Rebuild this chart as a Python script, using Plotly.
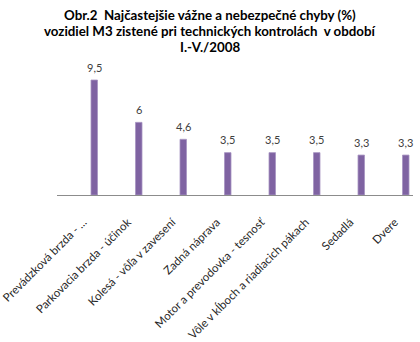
import plotly.graph_objects as go

# Najčastejšie vážne a nebezpečné chyby vozidiel M3, podiel v %
categories = [
    "Prevádzková brzda - ...",
    "Parkovacia brzda - účinok",
    "Kolesá - vôľa v zavesení",
    "Zadná náprava",
    "Motor a prevodovka - tesnosť",
    "Vôle v kĺboch a riadiacich pákach",
    "Sedadlá",
    "Dvere",
]
values = [9.5, 6, 4.6, 3.5, 3.5, 3.5, 3.3, 3.3]
value_labels = [f"{v:g}".replace(".", ",") for v in values]

title_lines = [
    "Obr.2  Najčastejšie vážne a nebezpečné chyby (%)",
    "vozidiel M3 zistené pri technických kontrolách  v období",
    "I.-V./2008",
]

FONT = "Lato"
BAR_FILL = "#7F63A2"
BAR_EDGE = "#A794C2"
BAR_OFFSET = 0.264   # bar sits right of the category centre
BAR_WIDTH = 0.146
BAND_PX = 356 / len(categories)

fig = go.Figure(
    go.Bar(
        x=categories,
        y=values,
        marker=dict(color=BAR_FILL, line=dict(color=BAR_EDGE, width=0.8)),
        offset=BAR_OFFSET,
        width=BAR_WIDTH,
        hoverinfo="x+y",
    )
)

# value labels above each bar
label_dx = (BAR_OFFSET + BAR_WIDTH / 2) * BAND_PX
for cat, val, lab in zip(categories, values, value_labels):
    fig.add_annotation(
        x=cat,
        y=val,
        text=lab,
        xref="x",
        yref="y",
        xanchor="center",
        yanchor="middle",
        xshift=label_dx,
        yshift=13,
        showarrow=False,
        font=dict(family=FONT, size=11, color="#404040"),
    )

# three-line chart title, centred over the chart
for i, line in enumerate(title_lines):
    fig.add_annotation(
        text=line,
        xref="paper",
        yref="paper",
        x=0.43,
        y=1,
        xanchor="center",
        yanchor="middle",
        yshift=50 - 16 * i,
        showarrow=False,
        font=dict(family=FONT, size=13.3, color="#000000", weight="bold"),
    )

fig.update_layout(
    width=420,
    height=342,
    margin=dict(l=57, r=7, t=65, b=147),
    paper_bgcolor="white",
    plot_bgcolor="white",
    showlegend=False,
    xaxis=dict(
        type="category",
        range=[-0.5, len(categories) - 0.5],
        automargin=False,
        showline=True,
        linecolor="#8C8C8C",
        linewidth=1,
        ticks="",
        showgrid=False,
        tickangle=-45,
        ticklabelstandoff=15,
        ticklabelshift=4,
        tickfont=dict(family=FONT, size=11.5, color="#262626"),
    ),
    yaxis=dict(
        range=[0, 10.74],
        automargin=False,
        visible=False,
        showgrid=False,
        zeroline=False,
    ),
)

fig.write_html("out.html")
